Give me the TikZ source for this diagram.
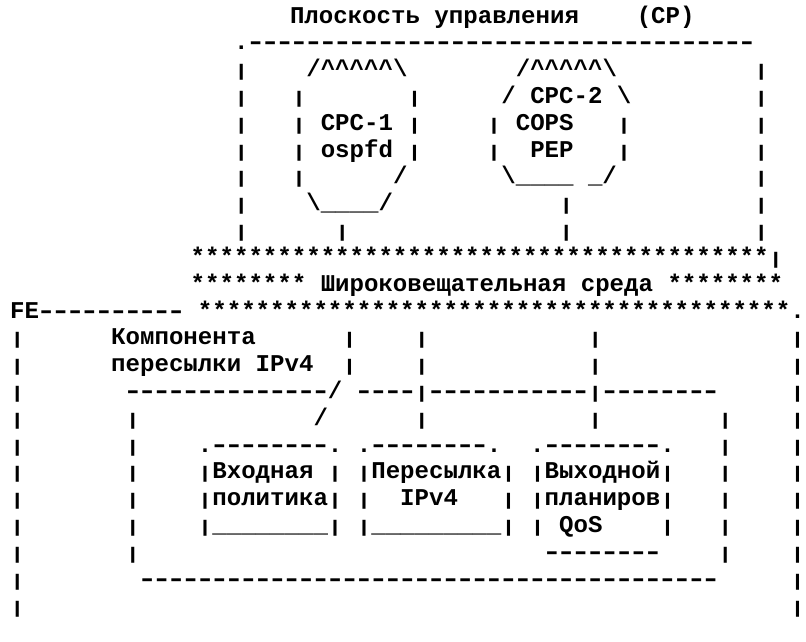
\documentclass[tikz,border=0pt]{standalone}
\usepackage{fontspec}
\usepackage{graphicx}
\setmonofont{Liberation Mono}
\usetikzlibrary{positioning}
\frenchspacing
\ExplSyntaxOn
\cs_new_eq:NN \rpt \prg_replicate:nn
\ExplSyntaxOff
\newcommand{\gapc}[1]{\hspace*{#1\dimexpr0.6em\relax}}
\newcommand{\crt}{\textasciicircum}
\newcommand{\bsl}{\textbackslash}
\newcommand{\vb}{\scalebox{1}[0.7]{|}}
\newcommand{\ds}{\makebox[0.6em]{\scalebox{1.4}[1]{-}}}

\begin{document}
\begin{tikzpicture}[
    x=14.45pt, y=-26.82pt,
    ascii/.style={font=\ttfamily\bfseries\fontsize{24.08}{26.82}\selectfont,
                  anchor=base west, inner sep=0pt, outer sep=0pt}
]
\useasboundingbox (0pt,0pt) rectangle (806pt,-641pt);

\begin{scope}[shift={(10.1pt,-23pt)}]
% Control plane box
\node[ascii] (cptitle) at (19.37,0) {Плоскость управления\gapc{4}(CP)};
\node[ascii] (cptop) at (15.5,1) {.\rpt{35}{\ds}};
\node[ascii] (cprow2) at (15.5,2) {\vb\gapc{4}/\rpt{5}{\crt}\bsl\gapc{7.5}/\rpt{5}{\crt}\bsl\gapc{9.5}\vb};
\node[ascii] (cprow3) at (15.5,3) {\vb\gapc{3}\vb\gapc{7}\vb\gapc{5.5}/ CPC-2 \bsl\gapc{8.5}\vb};
\node[ascii] (cprow4) at (15.5,4) {\vb\gapc{3}\vb\gapc{1}CPC-1\gapc{1}\vb\gapc{4.5}\vb\gapc{1}COPS\gapc{3}\vb\gapc{8.5}\vb};
\node[ascii] (cprow5) at (15.5,5) {\vb\gapc{3}\vb\gapc{1}ospfd\gapc{1}\vb\gapc{4.5}\vb\gapc{2}PEP\gapc{3}\vb\gapc{8.5}\vb};
\node[ascii] (cprow6) at (15.5,6) {\vb\gapc{3}\vb\gapc{6}/\gapc{6.5}\bsl\rpt{4}{\_}\gapc{1}\_/\gapc{9.5}\vb};
\node[ascii] (cprow7) at (15.5,7) {\vb\gapc{4}\bsl\rpt{4}{\_}/\gapc{11.5}\vb\gapc{12.5}\vb};
\node[ascii] (cprow8) at (15.5,8) {\vb\gapc{6}\vb\gapc{14.5}\vb\gapc{12.5}\vb};

% Broadcast medium
\node[ascii] (bus1) at (12.5,9) {\rpt{40}{*}\vb};
\node[ascii] (bus2) at (12.5,10) {\rpt{8}{*} Широковещательная среда \rpt{8}{*}};
\node[ascii] (bus3) at (0,11) {FE\rpt{10}{\ds}\gapc{1}\rpt{41}{*}.};

% Forwarding element
\node[ascii] (fe12) at (0,12) {\vb\gapc{6}Компонента\gapc{6}\vb\gapc{4}\vb\gapc{11}\vb\gapc{13}\vb};
\node[ascii] (fe13) at (0,13) {\vb\gapc{6}пересылки IPv4\gapc{2}\vb\gapc{4}\vb\gapc{11}\vb\gapc{13}\vb};
\node[ascii] (fe14) at (0,14) {\vb\gapc{7}\rpt{14}{\ds}/\gapc{1}\rpt{4}{\ds}\vb\rpt{11}{\ds}\vb\rpt{8}{\ds}\gapc{5}\vb};
\node[ascii] (fe15) at (0,15) {\vb\gapc{7}\vb\gapc{12}/\gapc{6}\vb\gapc{11}\vb\gapc{8}\vb\gapc{4}\vb};
\node[ascii] (fe16) at (0,16) {\vb\gapc{7}\vb\gapc{4}.\rpt{8}{\ds}.\gapc{1}.\rpt{8}{\ds}.\gapc{2}.\rpt{8}{\ds}.\gapc{3}\vb\gapc{4}\vb};
\node[ascii] (fe17) at (0,17) {\vb\gapc{7}\vb\gapc{4}\vb Входная\gapc{1}\vb\gapc{1}\vb Пересылка\vb\gapc{1}\vb Выходной\vb\gapc{3}\vb\gapc{4}\vb};
\node[ascii] (fe18) at (0,18) {\vb\gapc{7}\vb\gapc{4}\vb политика\vb\gapc{1}\vb\gapc{2}IPv4\gapc{3}\vb\gapc{1}\vb планиров\vb\gapc{3}\vb\gapc{4}\vb};
\node[ascii] (fe19) at (0,19) {\vb\gapc{7}\vb\gapc{4}\vb\rpt{8}{\_}\vb\gapc{1}\vb\rpt{9}{\_}\vb\gapc{1}\vb\gapc{1}QoS\gapc{4}\vb\gapc{3}\vb\gapc{4}\vb};
\node[ascii] (fe20) at (0,20) {\vb\gapc{7}\vb\gapc{28}\rpt{8}{\ds}\gapc{4}\vb\gapc{4}\vb};
\node[ascii] (fe21) at (0,21) {\vb\gapc{8}\rpt{40}{\ds}\gapc{5}\vb};
\node[ascii] (fe22) at (0,22) {\vb\gapc{53}\vb};
\end{scope}

\end{tikzpicture}
\end{document}
